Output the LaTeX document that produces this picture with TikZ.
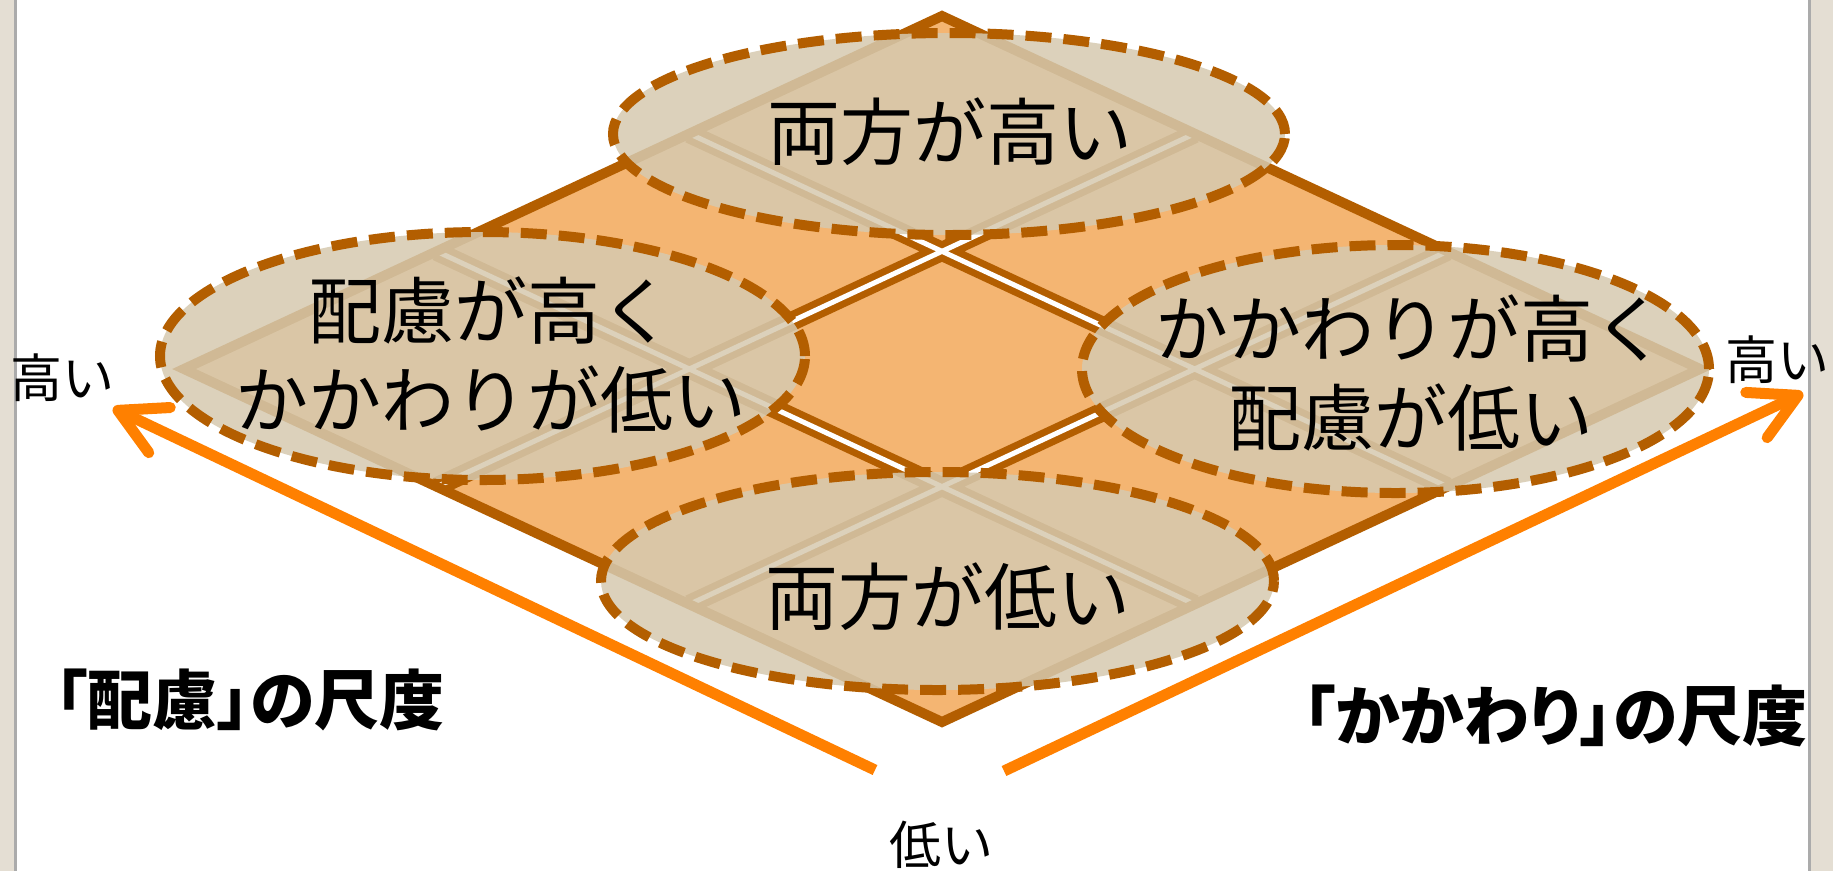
\documentclass[tikz,border=0pt]{standalone}
\usepackage{fontspec}
\setmainfont{Noto Sans CJK JP}
\usetikzlibrary{arrows.meta,shapes.geometric}
\definecolor{dfill}{HTML}{F4B572}
\definecolor{dbrown}{HTML}{B35E00}
\definecolor{axisorange}{HTML}{FF8000}
\definecolor{bubblefill}{HTML}{D6CAB0}
\definecolor{stripcol}{HTML}{E4DED3}
\definecolor{stripline}{HTML}{ABABAB}
\tikzset{
  bubble/.style={ellipse, draw=dbrown, line width=10pt, dash pattern=on 26pt off 12pt,
    fill=bubblefill, fill opacity=0.85, inner sep=0pt},
  celltext/.style={font=\fontsize{73}{89}\selectfont, align=center, inner sep=0pt},
  axislbl/.style={font=\fontsize{52}{60}\selectfont, inner sep=0pt},
  scalelbl/.style={font=\bfseries\fontsize{65}{70}\selectfont\addfontfeatures{RawFeature=+palt}, inner sep=0pt},
  axisarrow/.style={draw=axisorange, line width=11pt, -{Straight Barb[length=46pt,width=50pt,round]}},
  gridouter/.style={draw=dbrown, line width=19pt},
  gridinner/.style={draw=white, line width=5pt},
  diamondedge/.style={draw=dbrown, line width=10pt, line join=miter}
}
\begin{document}
\begin{tikzpicture}[x=1pt,y=-1pt]
\useasboundingbox (0,0) rectangle (1833,871);
\fill[white] (0,0) rectangle (1833,871);
% diamond corners and grid points
\coordinate (T) at (942,16);
\coordinate (R) at (1700,369);
\coordinate (B) at (942,722);
\coordinate (L) at (184,369);
\coordinate (a1) at (1194.67,133.67);
\coordinate (a2) at (1447.33,251.33);
\coordinate (b1) at (689.33,133.67);
\coordinate (b2) at (436.67,251.33);
\coordinate (a1e) at (436.67,486.67);
\coordinate (a2e) at (689.33,604.33);
\coordinate (b1e) at (1447.33,486.67);
\coordinate (b2e) at (1194.67,604.33);
\fill[dfill] (T) -- (R) -- (B) -- (L) -- cycle;
\begin{scope}
  \clip (T) -- (R) -- (B) -- (L) -- cycle;
  \draw[gridouter] (a1) -- (a1e) (a2) -- (a2e) (b1) -- (b1e) (b2) -- (b2e);
  \draw[gridinner] (a1) -- (a1e) (a2) -- (a2e) (b1) -- (b1e) (b2) -- (b2e);
\end{scope}
\draw[diamondedge] (T) -- (R) -- (B) -- (L) -- cycle;
% ellipses
\node[bubble, minimum width=672pt, minimum height=202pt] (eTop) at (949,134) {};
\node[bubble, minimum width=645pt, minimum height=248pt] (eLeft) at (482.5,356) {};
\node[bubble, minimum width=627pt, minimum height=248pt] (eRight) at (1395.5,369) {};
\node[bubble, minimum width=673pt, minimum height=218pt] (eBottom) at (937.5,581) {};
% texts
\node[celltext] (tTop) at (950,132) {両方が高い};
\node[celltext] (tLeft) at (491,355) {配慮が高く\\かかわりが低い};
\node[celltext] (tRight) at (1411,373) {かかわりが高く\\配慮が低い};
\node[celltext] (tBottom) at (948,597) {両方が低い};
% axes
\coordinate (ltail) at (875,770);
\coordinate (ltip) at (113,408);
\coordinate (rtail) at (1004,771);
\coordinate (rtip) at (1803,393);
\draw[axisarrow] (ltail) -- (ltip);
\draw[axisarrow] (rtail) -- (rtip);
\node[scalelbl] (sLeft) at (250,700) {「配慮」の尺度};
\node[scalelbl] (sRight) at (1555,716) {「かかわり」の尺度};
% window strips
\fill[stripcol] (0,0) rectangle (14,871);
\fill[stripline] (14,0) rectangle (17,871);
\fill[stripline] (1808,0) rectangle (1811,871);
\fill[stripcol] (1811,0) rectangle (1833,871);
% axis end labels
\node[axislbl] (hiLeft) at (62,378) {高い};
\node[axislbl] (hiRight) at (1777,360) {高い};
\node[axislbl] (lo) at (941,845) {低い};
\end{tikzpicture}
\end{document}
